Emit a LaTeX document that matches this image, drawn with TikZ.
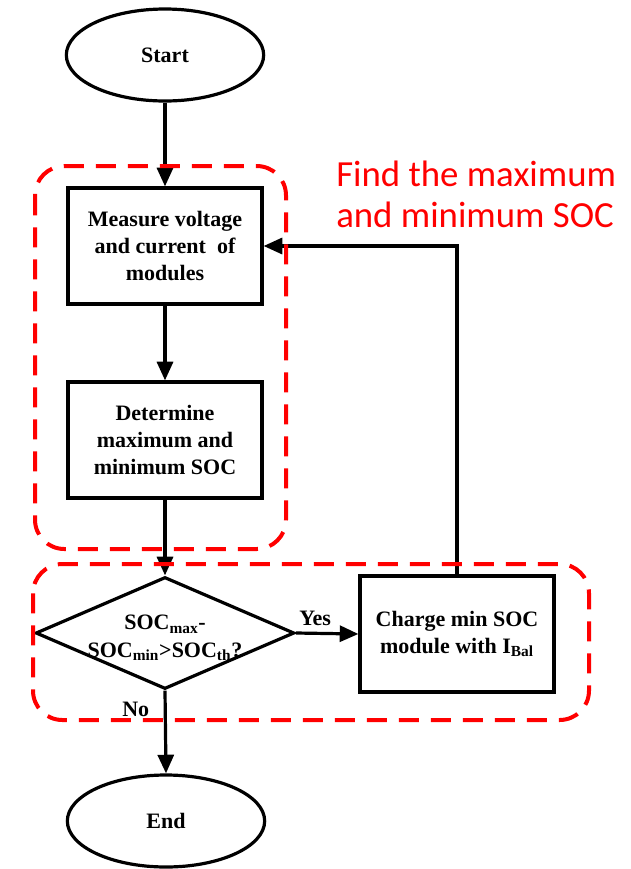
\documentclass[tikz,border=0pt]{standalone}
\usepackage{fontspec}
\setmainfont{Liberation Serif}
\newfontfamily\redfont{Carlito}
\usetikzlibrary{shapes.geometric,arrows.meta}
\tikzset{
  blk/.style={line width=2.4pt, draw=black},
  procbox/.style={blk, rectangle, minimum width=145.5pt, minimum height=87pt, inner sep=0pt, align=center, font=\fontsize{16.5}{20.5}\selectfont\bfseries},
  term/.style={blk, ellipse, minimum width=148pt, minimum height=69pt, inner sep=0pt, font=\fontsize{16.5}{20.5}\selectfont\bfseries},
  decis/.style={blk, diamond, minimum width=194pt, minimum height=84pt, inner sep=0pt, aspect=2.3},
  txt/.style={inner sep=0pt, align=center, font=\fontsize{16.5}{20.5}\selectfont\bfseries},
  conn/.style={line width=2.4pt, -{Triangle[length=14pt,width=12pt]}},
  reddash/.style={draw=red, line width=3pt, dash pattern=on 15pt off 9pt, rounded corners=22pt},
  redtxt/.style={inner sep=0pt, text=red, font=\redfont\fontsize{27.6}{31}\selectfont}
}
\begin{document}
\begin{tikzpicture}[x=0.75pt,y=-0.75pt]
\useasboundingbox (0,0) rectangle (631,869);
% nodes
\node[term] (start) at (165,55) {Start};
\node[procbox] (measure) at (165,246) {Measure voltage\\and current\ \ of\\modules};
\node[procbox] (determine) at (165,440) {Determine\\maximum and\\minimum SOC};
\node[decis] (dec) at (165,633) {};
\node[txt] (dectxt) at (165,638) {SOC\textsubscript{max}-\\SOC\textsubscript{min}{>}SOC\textsubscript{th}?};
\node[procbox] (charge) at (457,634) {Charge min SOC\\module with I\textsubscript{Bal}};
\node[term] (end) at (166,821) {End};
\node[txt, anchor=base west] (yes) at (299,625) {Yes};
\node[txt, anchor=base west] (no) at (122,716) {No};
\node[redtxt, anchor=base west] (r1) at (336,186) {Find the maximum};
\node[redtxt, anchor=base west] (r2) at (336,227) {and minimum SOC};
% connectors
\draw[conn] (start.south) -- (measure.north);
\draw[conn] (measure.south) -- (determine.north);
\draw[conn] (determine.south) -- (dec.north);
\draw[conn] (dec.east) -- (charge.west);
\draw[conn] (dec.south) -- (end.north);
\draw[conn] (charge.north) -- (charge.north |- measure.east) -- (measure.east);
% grouping boxes
\draw[reddash] (35,166) rectangle (286,549);
\draw[reddash] (33,564) rectangle (589,720);
\end{tikzpicture}
\end{document}
